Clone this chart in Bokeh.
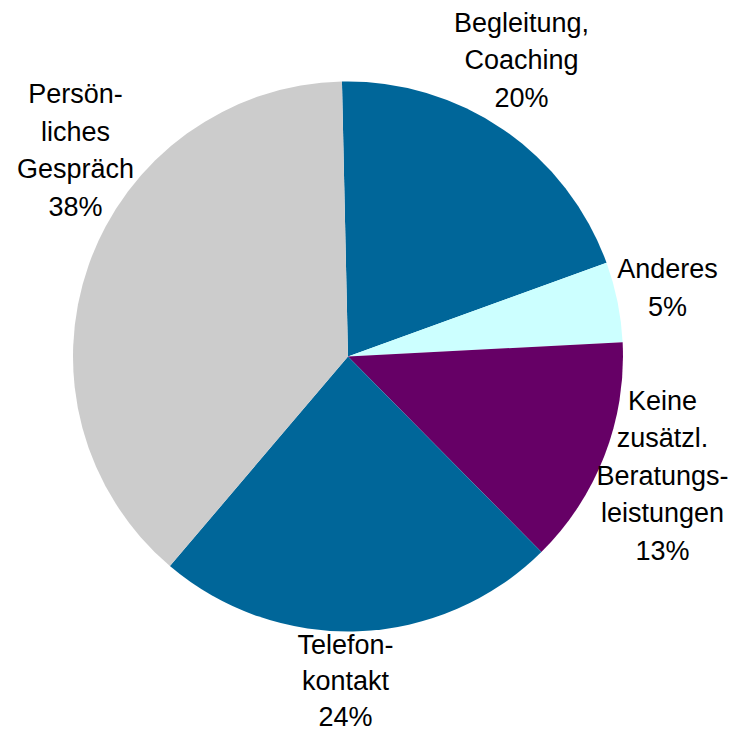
import math
from bokeh.plotting import figure
from bokeh.models import Range1d
from bokeh.core.properties import value
from bokeh.embed import file_html
from bokeh.resources import INLINE

# ---- data ----
categories = ["Begleitung, Coaching", "Anderes", "Keine zusätzl. Beratungsleistungen",
              "Telefonkontakt", "Persönliches Gespräch"]
shares = [19.8, 4.7, 13.4, 23.6, 38.4]
pct_labels = ["20%", "5%", "13%", "24%", "38%"]
label_lines = [["Begleitung,", "Coaching"],
               ["Anderes"],
               ["Keine", "zusätzl.", "Beratungs-", "leistungen"],
               ["Telefon-", "kontakt"],
               ["Persön-", "liches", "Gespräch"]]
colors = ["#006699", "#CCFFFF", "#660066", "#006699", "#CCCCCC"]

# ---- layout (image pixel coordinates) ----
W, H = 736, 735
cx_img, cy_img, R = 347.5, 356.0, 275.0
start_offset_deg = -1.26           # clockwise from 12 o'clock
label_centers = [(521, 59.5), (667, 287.5), (662, 475), (345, 680), (75, 150)]
line_steps = [37.5, 37.5, 37.5, 36.0, 37.5]

def Y(img_y):
    return H - img_y

p = figure(width=W, height=H, output_backend="svg", toolbar_location=None,
           x_range=Range1d(0, W), y_range=Range1d(0, H),
           min_border=0)
p.axis.visible = False
p.grid.visible = False
p.outline_line_color = None

total = sum(shares)
cum = start_offset_deg
starts, ends = [], []
for s in shares:
    a0 = cum
    a1 = cum + 360.0 * s / total
    starts.append(math.radians(90 - a0))
    ends.append(math.radians(90 - a1))
    cum = a1

p.wedge(x=[cx_img] * len(shares), y=[Y(cy_img)] * len(shares), radius=R,
        start_angle=starts, end_angle=ends, direction="clock",
        fill_color=colors, line_color=None)

xs, ys, txt = [], [], []
for lines, pct, (lx, ly), step in zip(label_lines, pct_labels, label_centers, line_steps):
    all_lines = lines + [pct]
    n = len(all_lines)
    for i, t in enumerate(all_lines):
        xs.append(lx)
        ys.append(Y(ly + (i - (n - 1) / 2) * step))
        txt.append(t)

p.text(x=xs, y=ys, text=txt, text_align="center", text_baseline="middle",
       text_font=value("Liberation Sans"), text_font_size="27px", text_color="black")

open("out.html", "w").write(file_html(p, INLINE))
